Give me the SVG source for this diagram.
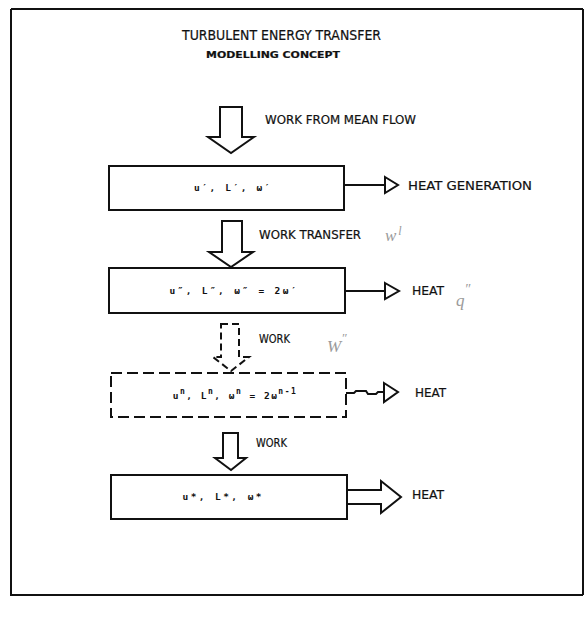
<svg xmlns="http://www.w3.org/2000/svg" width="585" height="630" viewBox="0 0 585 630">
<style>
.ln{fill:none;stroke:#111;stroke-width:2;stroke-linejoin:miter}
.arr{fill:#fff;stroke:#111;stroke-width:2;stroke-linejoin:miter}
.dash{stroke-dasharray:11 5}
.t{font-family:"Liberation Sans Narrow","DejaVu Sans Condensed","Liberation Sans",sans-serif;fill:#111;stroke:#111;stroke-width:0.2}
.lbl{font-size:12.5px}
.bx{font-family:"DejaVu Sans Mono","Liberation Mono",monospace;font-size:9.5px;font-weight:bold;fill:#111;text-anchor:middle}
.hw{font-family:"Liberation Serif",serif;font-style:italic;fill:#9a9a9a;font-size:17px}
</style>
<rect x="0" y="0" width="585" height="630" fill="#fff"/>
<g id="frame">
<path class="ln" d="M11,9 L583,9 M11,9 L11,595 L583,595 M583,9 L583,595" stroke-width="2"/>
</g>
<g id="title">
<text class="t" x="182" y="40" font-size="14" textLength="199" lengthAdjust="spacingAndGlyphs">TURBULENT ENERGY TRANSFER</text>
<text class="t" x="206" y="58" font-size="9.5" font-weight="bold" textLength="134" lengthAdjust="spacingAndGlyphs">MODELLING CONCEPT</text>
</g>
<g id="connectors">
<path class="arr" d="M220,107 L242,107 L242,137 L254,137 L231,153 L208,137 L220,137 Z"/>
<path class="arr" d="M222,221 L242,221 L242,252 L253,252 L231,267 L209,252 L222,252 Z"/>
<path class="arr" d="M221,324 L239,324 L239,357 L249,357 L231,371 L213,357 L221,357 Z" stroke-dasharray="7 4"/>
<path class="arr" d="M223,433 L238,433 L238,458 L246,458 L231,470 L215,458 L223,458 Z"/>
<path class="ln" d="M344,185 L385,185"/>
<path class="arr" d="M385,177 L398,185 L385,193 Z"/>
<path class="ln" d="M345,291 L385,291"/>
<path class="arr" d="M385,283 L399,291 L385,299 Z"/>
<path class="ln" d="M346,393 L354,393 L356,391 L366,391 L368,394 L376,394 L378,392 L384,392" stroke-width="4"/>
<path class="arr" d="M384,383 L398,392 L384,402 Z"/>
<path class="arr" d="M347,490 L381,490 L381,481 L401,497 L381,513 L381,504 L347,504"/>
</g>
<g id="work-labels">
<text class="t lbl" x="265" y="124" textLength="151" lengthAdjust="spacingAndGlyphs">WORK FROM MEAN FLOW</text>
<text class="t lbl" x="259" y="239" textLength="102" lengthAdjust="spacingAndGlyphs">WORK TRANSFER</text>
<text class="t lbl" x="259" y="343" textLength="31" lengthAdjust="spacingAndGlyphs">WORK</text>
<text class="t lbl" x="256" y="447" textLength="31" lengthAdjust="spacingAndGlyphs">WORK</text>
<text class="hw" x="385" y="241">w<tspan font-size="12" dx="2" dy="-6">l</tspan></text>
<text class="hw" x="456" y="306" font-size="22">q<tspan font-size="14" dy="-12">″</tspan></text>
<text class="hw" x="327" y="352" font-size="20">W<tspan font-size="13" dy="-10">″</tspan></text>
</g>
<g id="box1">
<rect class="ln" x="109" y="166" width="235" height="44"/>
<text class="bx" x="232" y="191" textLength="76" lengthAdjust="spacing">u′, L′, ω′</text>
<text class="t lbl" x="408" y="190" textLength="124" lengthAdjust="spacingAndGlyphs">HEAT GENERATION</text>
</g>
<g id="box2">
<rect class="ln" x="109" y="268" width="236" height="45"/>
<text class="bx" x="233" y="294" textLength="127" lengthAdjust="spacing">u″, L″, ω″ = 2ω′</text>
<text class="t lbl" x="412" y="295" textLength="32" lengthAdjust="spacingAndGlyphs">HEAT</text>
</g>
<g id="box3">
<rect class="ln dash" x="111" y="373" width="235" height="44" stroke-width="2.5"/>
<text class="bx" x="235" y="399" letter-spacing="1.5">u<tspan dy="-5" font-size="8">n</tspan><tspan dy="5">,  L</tspan><tspan dy="-5" font-size="8">n</tspan><tspan dy="5">,  ω</tspan><tspan dy="-5" font-size="8">n</tspan><tspan dy="5">  =  2ω</tspan><tspan dy="-5" font-size="8">n-1</tspan></text>
<text class="t lbl" x="415" y="397" textLength="31" lengthAdjust="spacingAndGlyphs">HEAT</text>
</g>
<g id="box4">
<rect class="ln" x="111" y="475" width="236" height="44"/>
<text class="bx" x="222" y="500" textLength="79" lengthAdjust="spacing">u*, L*, ω*</text>
<text class="t lbl" x="412" y="499" textLength="32" lengthAdjust="spacingAndGlyphs">HEAT</text>
</g>
</svg>
